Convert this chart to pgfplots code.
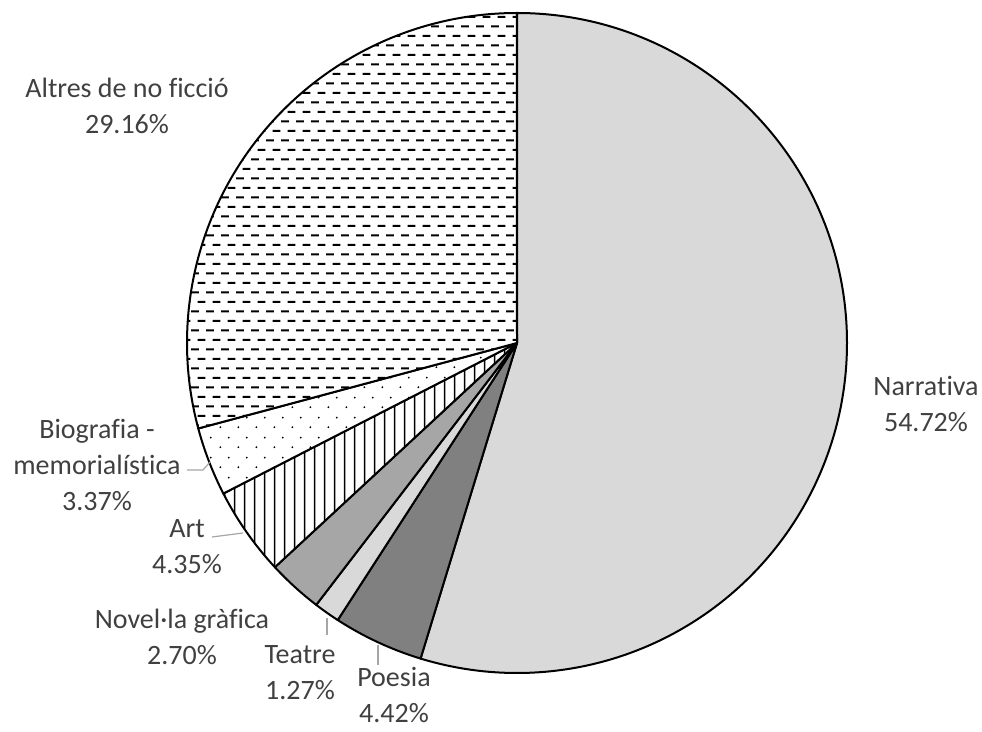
\documentclass[border=0pt]{standalone}
\usepackage{pgfplots}
\pgfplotsset{compat=1.18}
\usepackage{pgfplotstable}
\usepackage{fontspec}
\setmainfont{Carlito}[Ligatures=NoCommon]
\usetikzlibrary{patterns.meta}
\definecolor{txt}{HTML}{404040}
\definecolor{lead}{HTML}{A6A6A6}

\pgfdeclarepattern{
  name=hdashes, type=uncolored,
  bottom left={\pgfpoint{0pt}{0pt}}, top right={\pgfpoint{11pt}{14.2pt}},
  tile size={\pgfpoint{11pt}{14.2pt}},
  code={
    \pgfsetlinewidth{1.5pt}
    \pgfpathmoveto{\pgfpoint{0pt}{3.55pt}}\pgfpathlineto{\pgfpoint{6pt}{3.55pt}}
    \pgfpathmoveto{\pgfpoint{5pt}{10.65pt}}\pgfpathlineto{\pgfpoint{11pt}{10.65pt}}
    \pgfusepath{stroke}
  }}
\pgfdeclarepattern{
  name=sdots, type=uncolored,
  bottom left={\pgfpoint{0pt}{0pt}}, top right={\pgfpoint{13.5pt}{15pt}},
  tile size={\pgfpoint{13.5pt}{15pt}},
  code={
    \pgfpathcircle{\pgfpoint{3.4pt}{3.75pt}}{0.8pt}
    \pgfpathcircle{\pgfpoint{10.1pt}{11.25pt}}{0.8pt}
    \pgfusepath{fill}
  }}
\pgfdeclarepattern{
  name=vlines, type=uncolored,
  bottom left={\pgfpoint{0pt}{0pt}}, top right={\pgfpoint{7.2pt}{7.2pt}},
  tile size={\pgfpoint{7.2pt}{7.2pt}},
  code={
    \pgfsetlinewidth{1.1pt}
    \pgfpathmoveto{\pgfpoint{3.6pt}{-0.5pt}}\pgfpathlineto{\pgfpoint{3.6pt}{7.7pt}}
    \pgfusepath{stroke}
  }}

\tikzset{
  wedge/.style={draw=black, line width=1.5pt, line join=round},
  slice0/.style={wedge, fill={rgb,255:red,217;green,217;blue,217}},
  slice1/.style={wedge, fill={rgb,255:red,128;green,128;blue,128}},
  slice2/.style={wedge, fill={rgb,255:red,217;green,217;blue,217}},
  slice3/.style={wedge, fill={rgb,255:red,166;green,166;blue,166}},
  slice4/.style={wedge, fill=white, postaction={pattern=vlines, pattern color=black}},
  slice5/.style={wedge, fill=white, postaction={pattern=sdots, pattern color=black}},
  slice6/.style={wedge, fill=white, postaction={pattern=hdashes, pattern color=black}},
  lab/.style={align=center, text=txt, font=\fontsize{21}{27}\selectfont, inner sep=0pt},
}

\pgfplotstableread{
name pct
Narrativa 54.72
Poesia 4.42
Teatre 1.27
Novella 2.70
Art 4.35
Biografia 3.37
Altres 29.16
}\piedata

\begin{document}
\begin{tikzpicture}
\begin{axis}[
  x=0.75pt, y=0.75pt,
  xmin=0, xmax=982, ymin=0, ymax=732,
  hide axis, clip=false,
]
\xdef\startang{90}
\pgfplotsinvokeforeach{0,...,6}{
  \pgfplotstablegetelem{#1}{pct}\of\piedata
  \pgfmathsetmacro\endang{\startang-3.6*\pgfplotsretval}
  \edef\tmp{\noexpand\filldraw[slice#1] (axis cs:517,389) -- ++(\startang:247.5pt) arc[start angle=\startang, end angle=\endang, radius=247.5pt] -- cycle;}
  \tmp
  \xdef\startang{\endang}
}
% leader lines
\addplot[lead, line width=0.9pt, mark=none] coordinates {(187,262) (203,262) (210,270)};
\addplot[lead, line width=0.9pt, mark=none] coordinates {(212,195) (243,199)};
\addplot[lead, line width=0.9pt, mark=none] coordinates {(327,114) (327,97)};
\addplot[lead, line width=0.9pt, mark=none] coordinates {(378,87) (378,67)};
% labels
\node[lab] at (axis cs:127,626) {Altres de no ficció\\29.16\%};
\node[lab] at (axis cs:926,328) {Narrativa\\54.72\%};
\node[lab] at (axis cs:97,267) {Biografia -\\memorialística\\3.37\%};
\node[lab] at (axis cs:187,185) {Art\\4.35\%};
\node[lab] at (axis cs:182,95) {Novel·la gràfica\\2.70\%};
\node[lab] at (axis cs:300,59) {Teatre\\1.27\%};
\node[lab] at (axis cs:394,37) {Poesia\\4.42\%};
\end{axis}
\pgfresetboundingbox
\path[use as bounding box] (current axis.south west) rectangle (current axis.north east);
\end{tikzpicture}
\end{document}
